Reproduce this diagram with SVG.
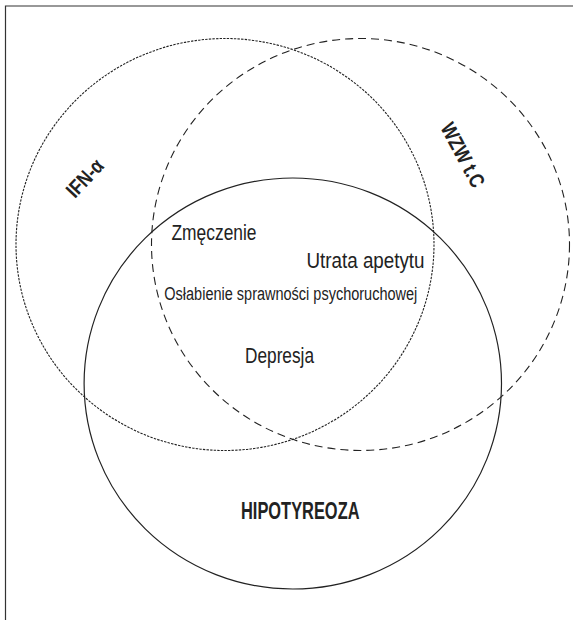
<svg xmlns="http://www.w3.org/2000/svg" width="573" height="620" viewBox="0 0 573 620">
<style>
  .set { fill: none; stroke: #222; }
  .dotted { stroke-width: 1.1; stroke-dasharray: 2.4 1.2; }
  .dashed { stroke-width: 1.1; stroke-dasharray: 8 5; }
  .solid { stroke-width: 1.2; }
  .lbl { font-family: "Liberation Sans Narrow", "Liberation Sans", Arial, sans-serif; fill: #222; }
  .bold { font-weight: bold; }
</style>
<rect width="573" height="620" fill="#fff"/>
<path d="M5.5,620 V6 H573" fill="none" stroke="#333" stroke-width="1.2"/>
<g id="set-ifn">
  <ellipse class="set dotted" cx="225" cy="244.5" rx="209" ry="206"/>
  <text class="lbl bold" x="90" y="183" font-size="21" text-anchor="middle" textLength="44" lengthAdjust="spacingAndGlyphs" transform="rotate(-47 90 183)">IFN-α</text>
</g>
<g id="set-wzw">
  <ellipse class="set dashed" cx="360.5" cy="244.5" rx="209" ry="206"/>
  <text class="lbl bold" x="456.5" y="158.5" font-size="21" text-anchor="middle" textLength="70" lengthAdjust="spacingAndGlyphs" transform="rotate(62 456.5 158.5)">WZW t.C</text>
</g>
<g id="set-hipotyreoza">
  <ellipse class="set solid" cx="292.8" cy="383.5" rx="208.7" ry="205.5"/>
  <text class="lbl bold" x="241" y="518.5" font-size="23" textLength="118.5" lengthAdjust="spacingAndGlyphs">HIPOTYREOZA</text>
</g>
<g id="symptoms">
  <text class="lbl" x="171.5" y="240" font-size="21.5" textLength="85" lengthAdjust="spacingAndGlyphs">Zmęczenie</text>
  <text class="lbl" x="306.5" y="267.5" font-size="21.5" textLength="118" lengthAdjust="spacingAndGlyphs">Utrata apetytu</text>
  <text class="lbl" x="164.3" y="300" font-size="18" textLength="253" lengthAdjust="spacingAndGlyphs">Osłabienie sprawności psychoruchowej</text>
  <text class="lbl" x="245" y="363" font-size="22" textLength="69" lengthAdjust="spacingAndGlyphs">Depresja</text>
</g>
<g id="connectors"/>
</svg>
